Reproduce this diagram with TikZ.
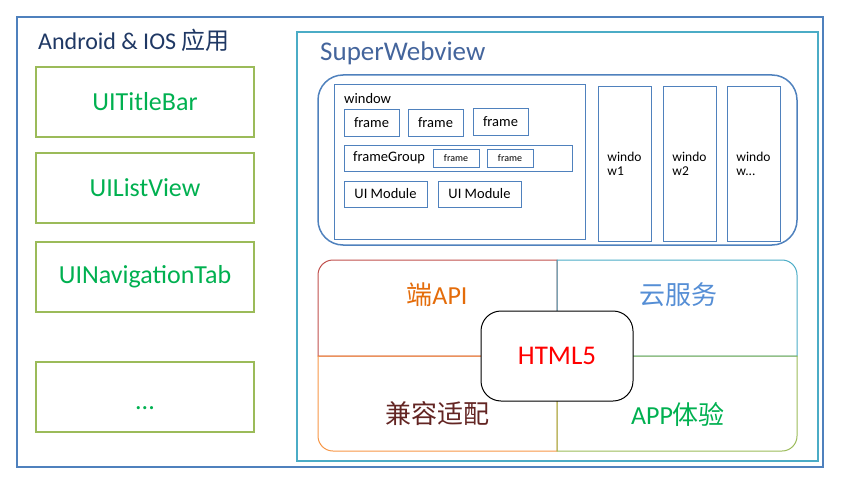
\documentclass[tikz,border=0pt]{standalone}
\usepackage{fontspec}
\setmainfont{Carlito}
\newfontfamily\cjk{Noto Sans CJK SC}
\definecolor{cOuter}{HTML}{4F81BD}
\definecolor{cTeal}{HTML}{4BACC6}
\definecolor{cGreenLine}{HTML}{9BBB59}
\definecolor{cGreenText}{HTML}{00B050}
\definecolor{cNavy}{HTML}{1F3864}
\definecolor{cSW}{HTML}{44659C}
\definecolor{cRed}{HTML}{C0504D}
\definecolor{cOrange}{HTML}{F79646}
\definecolor{cOrangeText}{HTML}{E46C0A}
\definecolor{cCloud}{HTML}{558ED5}
\definecolor{cBrown}{HTML}{632523}
\newcommand{\fs}[1]{\fontsize{#1}{#1}\selectfont}
\tikzset{
  greenbox/.style={draw=cGreenLine, line width=1.5pt, minimum width=218pt, minimum height=70pt, inner sep=0pt, text=cGreenText, font=\fs{26}},
  bluebox/.style={draw=cOuter, line width=1pt, inner sep=0pt},
  smallbox/.style={bluebox, minimum width=55pt, minimum height=26pt, font=\fs{14.5}},
  tinybox/.style={bluebox, minimum width=46pt, minimum height=18pt, font=\fs{10}},
  modbox/.style={bluebox, minimum width=83pt, minimum height=26pt, font=\fs{14.5}},
  winbox/.style={bluebox, minimum width=53pt, minimum height=154pt, font=\fs{13.5}, align=left},
  bigtxt/.style={font=\fs{26}, inner sep=0pt},
}
\begin{document}
\begin{tikzpicture}[x=1pt,y=-1pt]
\useasboundingbox (0,0) rectangle (845,484);
% outer frames
\node[draw=cOuter, line width=2pt, minimum width=806pt, minimum height=450pt, inner sep=0pt] (outer) at (420,242) {};
\node[anchor=west, inner sep=0pt, text=cNavy, font=\fs{24}] (apptitle) at (38,40) {Android \& IOS {\cjk 应用}};
% left boxes
\node[greenbox] (titlebar) at (145,102) {UITitleBar};
\node[greenbox] (listview) at (145,188) {UIListView};
\node[greenbox] (navtab) at (145,277) {UINavigationTab};
\node[greenbox] (more) at (145,397) {};
\node[inner sep=0pt, text=cGreenText, font=\fs{26}] (moretxt) at (145,408) {...};
% SuperWebview
\node[draw=cTeal, line width=2pt, minimum width=521pt, minimum height=429pt, inner sep=0pt] (sw) at (557.5,246.5) {};
\node[anchor=west, inner sep=0pt, text=cSW, font=\fs{27}] (swtitle) at (320,53) {SuperWebview};
\node[draw=cOuter, line width=1.5pt, rounded corners=25pt, minimum width=479pt, minimum height=170pt, inner sep=0pt] (winarea) at (557.5,160) {};
\node[bluebox, minimum width=251pt, minimum height=154pt] (window) at (459.5,162) {};
\node[anchor=west, inner sep=0pt, font=\fs{14.5}] (windowlbl) at (344,99) {window};
\node[smallbox] (frame1) at (371.5,123) {frame};
\node[smallbox] (frame2) at (435.5,123) {frame};
\node[smallbox] (frame3) at (500.5,122) {frame};
\node[bluebox, minimum width=228pt, minimum height=26pt] (fgroup) at (458,158) {};
\node[anchor=west, inner sep=0pt, font=\fs{14.5}] (fgrouplbl) at (353,158) {frameGroup};
\node[tinybox] (gframe1) at (456,158) {frame};
\node[tinybox] (gframe2) at (510,158) {frame};
\node[modbox] (uim1) at (385.5,194) {UI Module};
\node[modbox] (uim2) at (479.5,194) {UI Module};
\node[winbox] (win1) at (624.5,164) {windo\\[1pt]w1};
\node[winbox] (win2) at (689.5,164) {windo\\[1pt]w2};
\node[winbox] (win3) at (753.5,164) {windo\\[1pt]w...};
% quadrants
\draw[cRed, line width=1pt] (318,356) -- (318,275) .. controls (318,266.7) and (324.7,260) .. (333,260) -- (557,260) -- (557,356) -- cycle;
\draw[cTeal, line width=1pt] (557,356) -- (557,260) -- (782,260) .. controls (790.3,260) and (797,266.7) .. (797,275) -- (797,356) -- cycle;
\draw[cOrange, line width=1pt] (318,356) -- (318,436) .. controls (318,444.3) and (324.7,451) .. (333,451) -- (557,451) -- (557,356) -- cycle;
\draw[cGreenLine, line width=1pt] (557,356) -- (557,451) -- (782,451) .. controls (790.3,451) and (797,444.3) .. (797,436) -- (797,356) -- cycle;
\node[bigtxt, text=cOrangeText] (api) at (437,295) {{\cjk 端}API};
\node[bigtxt, text=cCloud] (cloud) at (678,295) {\cjk 云服务};
\node[bigtxt, text=cBrown] (compat) at (437,414) {\cjk 兼容适配};
\node[bigtxt, text=cGreenText] (appexp) at (678,414) {APP{\cjk 体验}};
\node[draw=black, fill=white, line width=1pt, rounded corners=20pt, minimum width=152pt, minimum height=90pt, inner sep=0pt, text=red, font=\fs{27}] (html5) at (557,356) {HTML5};
\end{tikzpicture}
\end{document}
